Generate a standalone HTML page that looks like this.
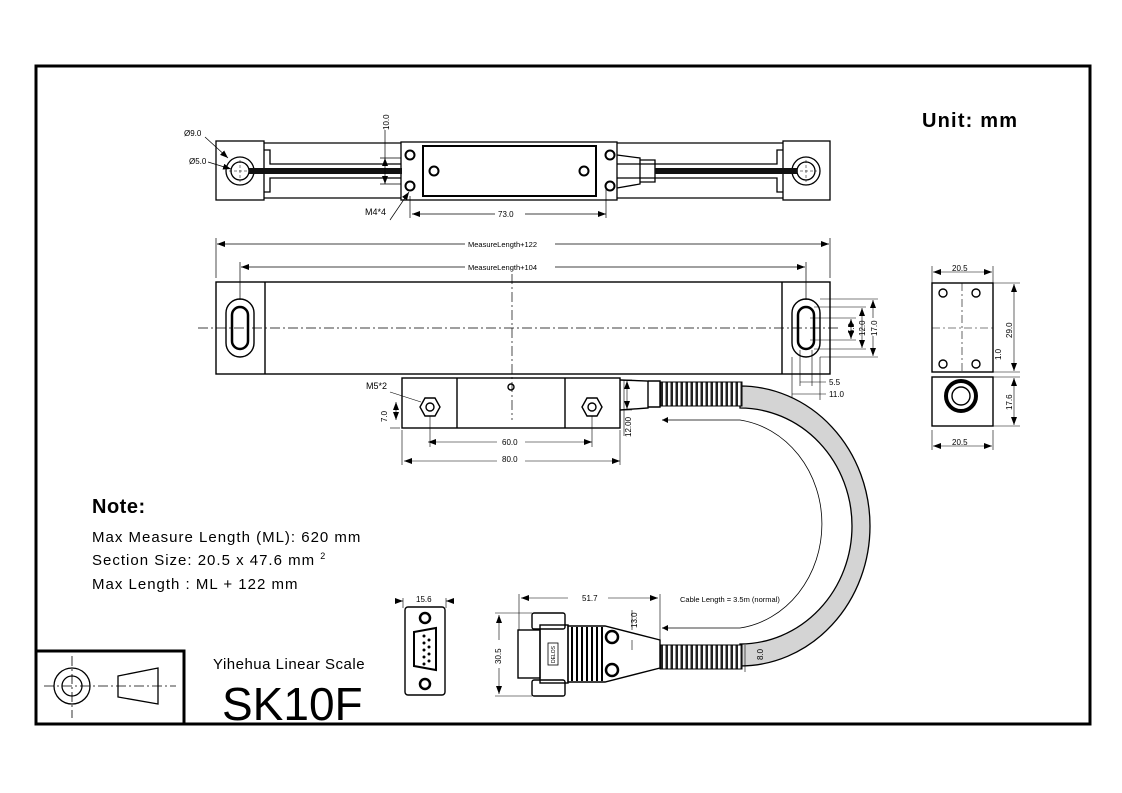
<!DOCTYPE html>
<html><head><meta charset="utf-8"><style>
html,body{margin:0;padding:0;background:#fff;}
svg{display:block;font-family:"Liberation Sans",sans-serif;}
</style></head><body>
<svg width="1122" height="793" viewBox="0 0 1122 793" xmlns="http://www.w3.org/2000/svg">
<defs>
<marker id="a" markerWidth="8" markerHeight="6" refX="8" refY="3" orient="auto-start-reverse" markerUnits="userSpaceOnUse"><path d="M0,0 L8,3 L0,6 z" fill="#000"/></marker>
<pattern id="cor" width="5" height="30" patternUnits="userSpaceOnUse"><rect width="5" height="30" fill="#fff"/><rect x="0.5" width="2.5" height="30" fill="#222"/></pattern>
</defs>
<rect width="1122" height="793" fill="#fff"/>
<!-- frame -->
<rect x="36" y="66" width="1054" height="658" fill="none" stroke="#000" stroke-width="3"/>
<path d="M36,651 H184 V724" fill="none" stroke="#000" stroke-width="3"/>
<g fill="none" stroke="#000" stroke-width="1.3">
<circle cx="72" cy="686" r="18"/><circle cx="72" cy="686" r="10"/>
<path d="M118,676 L158,668 V704 L118,697 Z"/>
</g>
<g stroke="#000" stroke-width="0.8" stroke-dasharray="10,3,2,3"><line x1="44" y1="686" x2="176" y2="686"/><line x1="72" y1="656" x2="72" y2="718"/></g>

<text x="922" y="127" font-size="20" font-weight="bold" letter-spacing="1.2">Unit: mm</text>
<text x="92" y="513" font-size="20" font-weight="bold" letter-spacing="0.5">Note:</text>
<text x="92" y="542" font-size="15" letter-spacing="1">Max Measure Length (ML): 620 mm</text>
<text x="92" y="565" font-size="15" letter-spacing="1">Section Size: 20.5 x 47.6 mm <tspan font-size="9" dy="-6">2</tspan></text>
<text x="92" y="589" font-size="15" letter-spacing="1">Max Length : ML + 122 mm</text>
<text x="213" y="669" font-size="15" letter-spacing="0.5">Yihehua Linear Scale</text>
<text x="222" y="720" font-size="46">SK10F</text>

<!-- TOP VIEW -->
<g fill="none" stroke="#000" stroke-width="1.3">
<rect x="216" y="141" width="48" height="59"/>
<rect x="783" y="141" width="47" height="59"/>
<line x1="264" y1="143" x2="401" y2="143"/><line x1="617" y1="143" x2="783" y2="143"/>
<line x1="264" y1="198" x2="401" y2="198"/><line x1="617" y1="198" x2="783" y2="198"/>
<path d="M264,150 H270 V164 H401 M264,192 H270 V178 H401 M617,164 H777 V150 H783 M617,178 H777 V192 H783"/>
<circle cx="240" cy="171" r="14"/><circle cx="240" cy="171" r="9"/>
<circle cx="806" cy="171" r="14"/><circle cx="806" cy="171" r="9"/>
<rect x="401" y="142" width="216" height="58"/>
<rect x="423" y="146" width="173" height="50" stroke-width="2"/>
<circle cx="410" cy="155" r="4.5" stroke-width="2"/><circle cx="410" cy="186" r="4.5" stroke-width="2"/>
<circle cx="610" cy="155" r="4.5" stroke-width="2"/><circle cx="610" cy="186" r="4.5" stroke-width="2"/>
<circle cx="434" cy="171" r="4.5" stroke-width="2"/><circle cx="584" cy="171" r="4.5" stroke-width="2"/>
<path d="M617,155 L640,158 V184 L617,188 M640,160 H655 V182 H640"/>
</g>
<g stroke="#000" stroke-width="0.5" stroke-dasharray="3,2"><line x1="240" y1="160" x2="240" y2="182"/><line x1="229" y1="171" x2="251" y2="171"/><line x1="806" y1="160" x2="806" y2="182"/><line x1="795" y1="171" x2="817" y2="171"/></g>
<rect x="249" y="168" width="153" height="6" fill="#111"/>
<rect x="655" y="168" width="142" height="6" fill="#111"/>
<g stroke="#000" stroke-width="0.7" fill="none">
<line x1="385" y1="158" x2="385" y2="184" marker-start="url(#a)" marker-end="url(#a)"/>
<line x1="380" y1="158" x2="401" y2="158"/><line x1="380" y1="184" x2="401" y2="184"/>
<line x1="385" y1="130" x2="385" y2="158"/>
<line x1="410" y1="196" x2="410" y2="218"/><line x1="606" y1="186" x2="606" y2="218"/>
<line x1="412" y1="214" x2="606" y2="214" marker-start="url(#a)" marker-end="url(#a)"/>
<path d="M390,220 L409,192" marker-end="url(#a)"/>
<path d="M205,137 L228,158" marker-end="url(#a)"/>
<path d="M208,162 L231,169" marker-end="url(#a)"/>
</g>
<rect x="495" y="208" width="30" height="12" fill="#fff"/>
<text x="498" y="217" font-size="8">73.0</text>
<text x="365" y="215" font-size="9">M4*4</text>
<text x="184" y="136" font-size="8">Ø9.0</text>
<text x="189" y="164" font-size="8">Ø5.0</text>
<text x="389" y="130" font-size="8" transform="rotate(-90 389 130)">10.0</text>

<!-- MAIN BODY -->
<g stroke="#000" stroke-width="0.7" fill="none">
<line x1="216" y1="238" x2="216" y2="278"/><line x1="830" y1="238" x2="830" y2="278"/>
<line x1="240" y1="262" x2="240" y2="300"/><line x1="806" y1="262" x2="806" y2="300"/>
<line x1="217" y1="244" x2="829" y2="244" marker-start="url(#a)" marker-end="url(#a)"/>
<line x1="241" y1="267" x2="805" y2="267" marker-start="url(#a)" marker-end="url(#a)"/>
</g>
<rect x="465" y="238" width="90" height="12" fill="#fff"/><rect x="465" y="261" width="90" height="12" fill="#fff"/>
<text x="468" y="247" font-size="7.5">MeasureLength+122</text>
<text x="468" y="270" font-size="7.5">MeasureLength+104</text>
<g fill="none" stroke="#000" stroke-width="1.4">
<rect x="216" y="282" width="614" height="92"/>
<line x1="265" y1="282" x2="265" y2="374"/><line x1="782" y1="282" x2="782" y2="374"/>
<rect x="226" y="299" width="28" height="58" rx="14"/>
<rect x="232" y="307" width="16" height="42" rx="8" stroke-width="2.5"/>
<rect x="792" y="299" width="28" height="58" rx="14"/>
<rect x="798" y="307" width="16" height="42" rx="8" stroke-width="2.5"/>
</g>
<g stroke="#000" stroke-width="0.7" stroke-dasharray="10,3,2,3"><line x1="198" y1="328" x2="838" y2="328"/><line x1="512" y1="274" x2="512" y2="420"/></g>
<g stroke="#000" stroke-width="0.6" fill="none">
<path d="M820,299 H878 M820,357 H878 M814,307 H866 M814,349 H866 M810,318 H856 M810,340 H856"/>
<line x1="873" y1="300" x2="873" y2="356" marker-start="url(#a)" marker-end="url(#a)"/>
<line x1="862" y1="308" x2="862" y2="348" marker-start="url(#a)" marker-end="url(#a)"/>
<line x1="851" y1="319" x2="851" y2="339" marker-start="url(#a)" marker-end="url(#a)"/>
<path d="M800,350 V386 M812,350 V386 M792,357 V400 M820,357 V400"/>
<line x1="800" y1="382" x2="826" y2="382"/><line x1="792" y1="394" x2="826" y2="394"/>
</g>
<rect x="866" y="318" width="12" height="18" fill="#fff"/>
<text x="877" y="336" font-size="8" transform="rotate(-90 877 336)">17.0</text>
<text x="865" y="336" font-size="8" transform="rotate(-90 865 336)">12.0</text>
<text x="854" y="334" font-size="8" transform="rotate(-90 854 334)">6.0</text>
<text x="829" y="385" font-size="8">5.5</text>
<text x="829" y="397" font-size="8">11.0</text>

<!-- CABLE -->
<path d="M740,386 A130,140 0 0 1 740,666 L740,644 A112,118 0 0 0 740,408 Z" fill="#d4d4d4" stroke="#000" stroke-width="1.3"/>
<path d="M662,420 L740,420 A95,105 0 0 1 740,628 L662,628" fill="none" stroke="#000" stroke-width="0.8"/>
<path d="M662,420 L668,417 L668,423 Z M662,628 L668,625 L668,631 Z" fill="#000"/>
<rect x="660" y="382" width="82" height="24" fill="url(#cor)" stroke="#000"/>
<rect x="660" y="645" width="82" height="24" fill="url(#cor)" stroke="#000"/>
<text x="680" y="602" font-size="7.5">Cable Length = 3.5m (normal)</text>

<!-- READING HEAD -->
<g fill="none" stroke="#000" stroke-width="1.4">
<rect x="402" y="378" width="218" height="50"/>
<line x1="457" y1="378" x2="457" y2="428"/><line x1="565" y1="378" x2="565" y2="428"/>
<polygon points="420,407 425,398 435,398 440,407 435,416 425,416"/><circle cx="430" cy="407" r="4"/>
<polygon points="582,407 587,398 597,398 602,407 597,416 587,416"/><circle cx="592" cy="407" r="4"/>
<circle cx="511" cy="387" r="3"/>
<path d="M620,380 L648,381 V408 L620,410 M648,381 H660 V407 H648"/>
</g>
<g stroke="#000" stroke-width="0.6" fill="none">
<path d="M402,430 V465 M620,430 V465 M430,416 V447 M592,416 V447 M624,380 V436 M622,380 H632 M622,410 H632"/>
<line x1="428" y1="442" x2="592" y2="442" marker-start="url(#a)" marker-end="url(#a)"/>
<line x1="404" y1="461" x2="620" y2="461" marker-start="url(#a)" marker-end="url(#a)"/>
<line x1="627" y1="381" x2="627" y2="409" marker-start="url(#a)" marker-end="url(#a)"/>
<path d="M390,392 L421,402"/><line x1="396" y1="402" x2="396" y2="420" marker-start="url(#a)" marker-end="url(#a)"/><path d="M390,428 H400"/>
</g>
<rect x="497" y="437" width="28" height="10" fill="#fff"/><rect x="497" y="456" width="28" height="10" fill="#fff"/>
<text x="502" y="445" font-size="8">60.0</text>
<text x="502" y="462" font-size="8">80.0</text>
<text x="366" y="389" font-size="9">M5*2</text>
<text x="387" y="422" font-size="8" transform="rotate(-90 387 422)">7.0</text>
<text x="631" y="437" font-size="8" transform="rotate(-90 631 437)">12.00</text>

<!-- SIDE VIEW -->
<g fill="none" stroke="#000" stroke-width="1.4">
<rect x="932" y="283" width="61" height="89"/>
<rect x="932" y="377" width="61" height="49"/>
<circle cx="943" cy="293" r="4"/><circle cx="976" cy="293" r="4"/><circle cx="943" cy="364" r="4"/><circle cx="976" cy="364" r="4"/>
<circle cx="961" cy="396" r="15" stroke-width="4"/><circle cx="961" cy="396" r="9"/>
</g>
<g stroke="#000" stroke-width="0.6" stroke-dasharray="8,3,2,3"><line x1="962" y1="283" x2="962" y2="372"/><line x1="932" y1="328" x2="993" y2="328"/></g>
<g stroke="#000" stroke-width="0.6" fill="none">
<path d="M932,266 V283 M993,266 V283 M932,430 V450 M993,430 V450 M993,283 H1020 M993,372 H1020 M993,377 H1020 M993,426 H1020"/>
<line x1="933" y1="272" x2="992" y2="272" marker-start="url(#a)" marker-end="url(#a)"/>
<line x1="933" y1="446" x2="992" y2="446" marker-start="url(#a)" marker-end="url(#a)"/>
<line x1="1014" y1="284" x2="1014" y2="371" marker-start="url(#a)" marker-end="url(#a)"/>
<line x1="1014" y1="378" x2="1014" y2="425" marker-start="url(#a)" marker-end="url(#a)"/>
</g>
<text x="952" y="271" font-size="8">20.5</text>
<text x="952" y="445" font-size="8">20.5</text>
<text x="1012" y="338" font-size="8" transform="rotate(-90 1012 338)">29.0</text>
<text x="1001" y="360" font-size="8" transform="rotate(-90 1001 360)">1.0</text>
<text x="1012" y="410" font-size="8" transform="rotate(-90 1012 410)">17.6</text>

<!-- DB9 FRONT -->
<g fill="none" stroke="#000" stroke-width="1.4">
<rect x="405" y="607" width="40" height="88" rx="3"/>
<circle cx="425" cy="618" r="5" stroke-width="2.5"/><circle cx="425" cy="684" r="5" stroke-width="2.5"/>
<path d="M414,632 L436,628 V670 L414,666 Z" stroke-width="2"/>
</g>
<g fill="#000"><circle cx="424" cy="636" r="1.5"/><circle cx="424" cy="643" r="1.5"/><circle cx="424" cy="650" r="1.5"/><circle cx="424" cy="657" r="1.5"/><circle cx="424" cy="664" r="1.5"/><circle cx="429" cy="640" r="1.5"/><circle cx="429" cy="647" r="1.5"/><circle cx="429" cy="654" r="1.5"/><circle cx="429" cy="661" r="1.5"/></g>
<g stroke="#000" stroke-width="0.6"><path d="M403,598 V608 M446,598 V608"/><line x1="396" y1="601" x2="403" y2="601" marker-end="url(#a)"/><line x1="454" y1="601" x2="446" y2="601" marker-end="url(#a)"/></g>
<text x="416" y="602" font-size="8">15.6</text>

<!-- DB9 SIDE -->
<g fill="none" stroke="#000" stroke-width="1.4">
<rect x="532" y="613" width="33" height="16" rx="2"/><rect x="532" y="680" width="33" height="16" rx="2"/>
<rect x="518" y="630" width="22" height="48"/>
<rect x="540" y="625" width="28" height="58"/>
<path d="M568,626 H605 L660,640 V668 L605,682 H568 Z"/>
<circle cx="612" cy="637" r="6" stroke-width="2.5"/><circle cx="612" cy="670" r="6" stroke-width="2.5"/>
<rect x="548" y="643" width="10" height="22" stroke-width="0.8"/>
</g>
<g stroke="#000" stroke-width="2"><path d="M572,627 V681 M577,627 V681 M582,627 V681 M587,627 V681 M592,627 V681 M597,627 V681 M602,627 V681"/></g>
<text x="555" y="663" font-size="5" transform="rotate(-90 555 663)">DELOS</text>
<g stroke="#000" stroke-width="0.6" fill="none">
<path d="M519,594 V630 M660,594 V640 M495,613 H532 M495,696 H532 M745,645 V672"/>
<line x1="521" y1="598" x2="658" y2="598" marker-start="url(#a)" marker-end="url(#a)"/>
<line x1="499" y1="615" x2="499" y2="694" marker-start="url(#a)" marker-end="url(#a)"/>
<path d="M632,630 V610 M632,640 V650"/>
</g>
<rect x="568" y="593" width="40" height="10" fill="#fff"/><rect x="492" y="640" width="14" height="28" fill="#fff"/>
<text x="582" y="601" font-size="8">51.7</text>
<text x="501" y="664" font-size="8" transform="rotate(-90 501 664)">30.5</text>
<text x="637" y="628" font-size="8" transform="rotate(-90 637 628)">13.0</text>
<text x="763" y="660" font-size="8" transform="rotate(-90 763 660)">8.0</text>
</svg>
</body></html>
